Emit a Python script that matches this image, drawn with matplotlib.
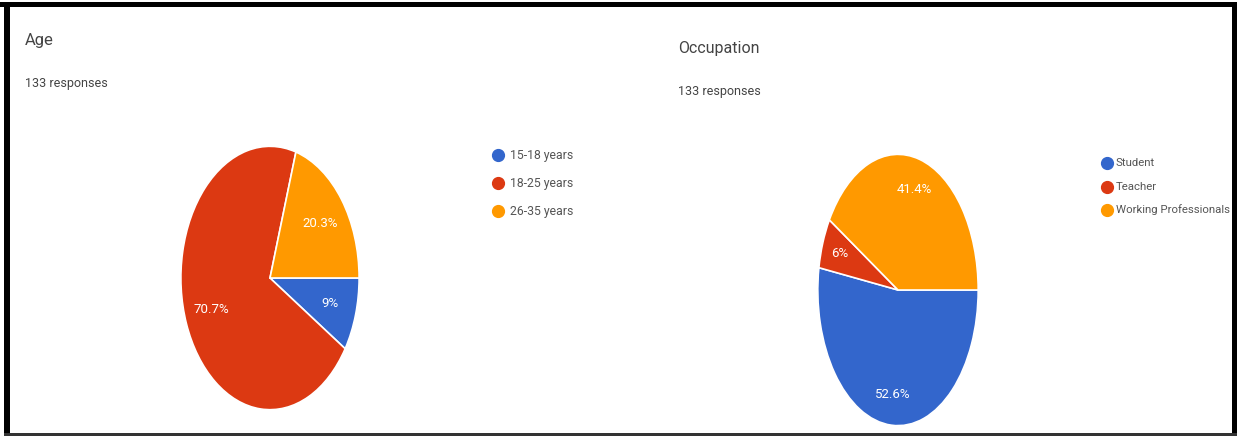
import matplotlib
matplotlib.use("Agg")
import matplotlib.pyplot as plt
from matplotlib.patches import Rectangle

# survey data (133 responses each)
age_labels = ["15-18 years", "18-25 years", "26-35 years"]
age_counts = [12, 94, 27]

occ_labels = ["Student", "Teacher", "Working Professionals"]
occ_counts = [70, 8, 55]

colors = ["#3366cc", "#dc3912", "#ff9900"]
FONT = ["Roboto", "DejaVu Sans"]
W, H = 1237, 437


def pct_fmt(p):
    s = "%.1f" % p
    if s.endswith(".0"):
        s = s[:-2]
    return s + "%"


def px_axes(fig, cx, cy, rx, ry):
    # axes box in pixel coords (y measured from top)
    return fig.add_axes([(cx - rx) / W, (H - cy - ry) / H, 2 * rx / W, 2 * ry / H])


def draw_pie(ax, counts, pctdist):
    wedges, _, autotexts = ax.pie(counts, colors=colors, startangle=0, counterclock=False,
                                  autopct=pct_fmt, pctdistance=pctdist, radius=1,
                                  wedgeprops=dict(edgecolor="white", linewidth=1.2))
    for t in autotexts:
        t.set_color("white")
        t.set_fontsize(9.5)
        t.set_family(FONT)
    ax.set_xlim(-1.01, 1.01)
    ax.set_ylim(-1.01, 1.01)
    ax.set_aspect("auto")
    ax.axis("off")
    return wedges


fig = plt.figure(figsize=(W / 100, H / 100), dpi=100)
fig.patch.set_facecolor("white")

# overlay in pixel coords for headers, legends and frame
bg = fig.add_axes([0, 0, 1, 1])
bg.set_xlim(0, W)
bg.set_ylim(H, 0)
bg.axis("off")

for (x0, y0, w, h, c) in [(0, 2, W, 5, "black"), (4, 2, 6, 433, "black"),
                          (1232, 2, 5, 433, "black"), (4, 433, W - 4, 2.5, "#333333")]:
    bg.add_patch(Rectangle((x0, y0), w, h, color=c, lw=0))

bg.text(25, 41, "Age", fontsize=12, color="#444444", va="center", family=FONT)
bg.text(25, 84, "133 responses", fontsize=9, color="#444444", va="center", family=FONT)
bg.text(678, 48, "Occupation", fontsize=11.5, color="#444444", va="center", family=FONT)
bg.text(678, 92, "133 responses", fontsize=9, color="#444444", va="center", family=FONT)

for i, lab in enumerate(age_labels):
    y = 155 + i * 28
    bg.plot(498, y, "o", ms=8.5, color=colors[i], mec=colors[i])
    bg.text(510, y, lab, fontsize=8.8, color="#555555", va="center", family=FONT)

for i, lab in enumerate(occ_labels):
    y = 163 + i * 23.5
    bg.plot(1107, y, "o", ms=8.5, color=colors[i], mec=colors[i])
    bg.text(1116, y, lab, fontsize=8.2, color="#555555", va="center", family=FONT)

ax1 = px_axes(fig, 270, 278, 90, 133)
draw_pie(ax1, age_counts, 0.7)

ax2 = px_axes(fig, 898, 290, 81, 137)
draw_pie(ax2, occ_counts, 0.77)

fig.savefig("out.png", dpi=100, facecolor="white")
